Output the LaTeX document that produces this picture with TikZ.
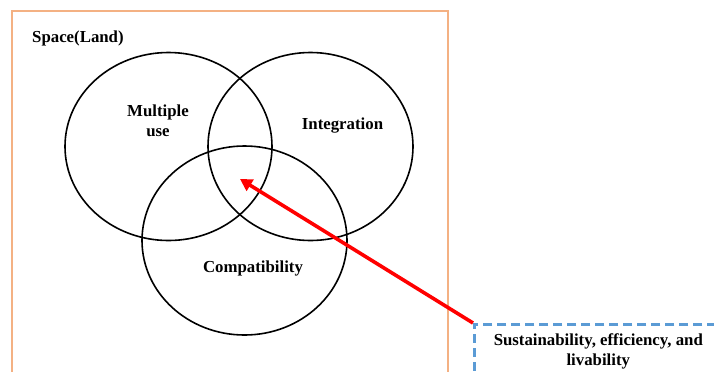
\documentclass[tikz,border=0pt]{standalone}
\usepackage{fontspec}
\setmainfont{Liberation Serif}
\usetikzlibrary{shapes.geometric,arrows.meta}
\definecolor{frameorange}{HTML}{F4B183}
\definecolor{goalblue}{HTML}{5B9BD5}
\definecolor{pointred}{HTML}{FF0000}
\begin{document}
\begin{tikzpicture}[x=1bp,y=-1bp,
  setcircle/.style={ellipse,draw=black,line width=1.6bp,inner sep=0pt},
  lbl/.style={font=\bfseries\fontsize{16.8bp}{20bp}\selectfont,align=center,inner sep=0pt},
  goalbox/.style={draw=goalblue,line width=2.6bp,dash pattern=on 9bp off 5bp,
    anchor=north west,minimum width=248bp,minimum height=54bp,inner sep=0pt,
    font=\bfseries\fontsize{16.8bp}{20bp}\selectfont,align=center},
  pointer/.style={draw=pointred,line width=3.6bp,-{Triangle[length=12bp,width=13bp]}}
]
\useasboundingbox (0,0) rectangle (714,371);
% outer frame for the land area
\draw[frameorange,line width=2.2bp] (12,400) -- (12,11) -- (448,11) -- (448,400);
\node[lbl,anchor=west] (space) at (32,38) {Space(Land)};

% three overlapping sets
\node[setcircle,minimum width=207bp,minimum height=188bp] (multi) at (168.5,146.5) {};
\node[setcircle,minimum width=205bp,minimum height=188bp] (integ) at (310.5,146.5) {};
\node[setcircle,minimum width=205bp,minimum height=189bp] (compat) at (244.5,240.5) {};

\node[lbl] (multilbl) at (158,121) {Multiple\\use};
\node[lbl] (integlbl) at (342.5,126) {Integration};
\node[lbl] (compatlbl) at (253,268) {Compatibility};

% goal box and pointer to the common area
\node[goalbox] (goal) at (473,323) {Sustainability, efficiency, and\\livability};
\coordinate (centre) at (240,179);
\draw[pointer] (goal.north west) -- (centre);
\end{tikzpicture}
\end{document}
